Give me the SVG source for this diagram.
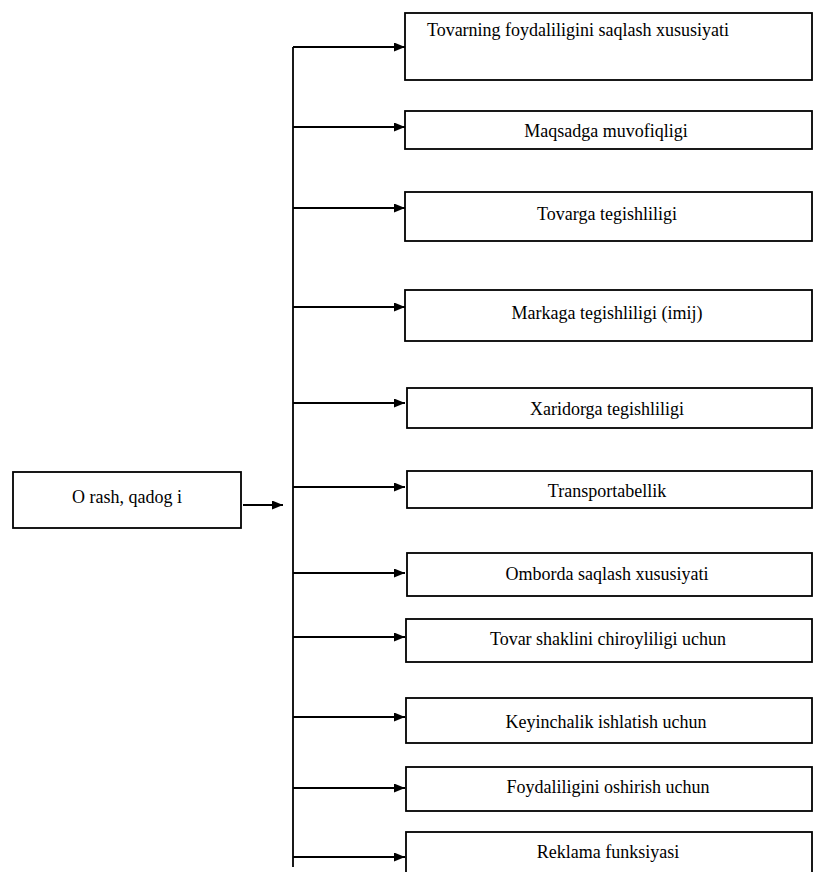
<svg xmlns="http://www.w3.org/2000/svg" width="814" height="872" viewBox="0 0 814 872">
  <style>
    .box { fill: #fff; stroke: #000; stroke-width: 1.8; }
    .lbl { font-family: "Liberation Serif", "Times New Roman", serif; font-size: 18px; fill: #000; text-anchor: middle; }
    .ln { stroke: #000; stroke-width: 1.8; fill: none; }
  </style>
  <defs>
    <marker id="arr" markerWidth="11" markerHeight="9" refX="11" refY="4.5" orient="auto" markerUnits="userSpaceOnUse">
      <path d="M0,0 L11,4.5 L0,9 Z" fill="#000"/>
    </marker>
  </defs>
  <rect width="814" height="872" fill="#fff"/>

  <!-- connectors -->
  <g id="connectors">
    <line class="ln" x1="293" y1="47" x2="293" y2="867"/>
    <line class="ln" x1="243" y1="505" x2="283" y2="505" marker-end="url(#arr)"/>
    <line class="ln" x1="293" y1="47" x2="405" y2="47" marker-end="url(#arr)"/>
    <line class="ln" x1="293" y1="127" x2="405" y2="127" marker-end="url(#arr)"/>
    <line class="ln" x1="293" y1="208" x2="405" y2="208" marker-end="url(#arr)"/>
    <line class="ln" x1="293" y1="307" x2="405" y2="307" marker-end="url(#arr)"/>
    <line class="ln" x1="293" y1="403" x2="405" y2="403" marker-end="url(#arr)"/>
    <line class="ln" x1="293" y1="487" x2="405" y2="487" marker-end="url(#arr)"/>
    <line class="ln" x1="293" y1="573" x2="405" y2="573" marker-end="url(#arr)"/>
    <line class="ln" x1="293" y1="637" x2="405" y2="637" marker-end="url(#arr)"/>
    <line class="ln" x1="293" y1="717" x2="405" y2="717" marker-end="url(#arr)"/>
    <line class="ln" x1="293" y1="788" x2="405" y2="788" marker-end="url(#arr)"/>
    <line class="ln" x1="293" y1="857" x2="405" y2="857" marker-end="url(#arr)"/>
  </g>

  <g id="root">
    <rect class="box" x="13" y="472" width="228" height="56"/>
    <text class="lbl" x="127" y="503">O rash, qadog i</text>
  </g>

  <g id="n1">
    <rect class="box" x="405" y="13" width="407" height="67"/>
    <text class="lbl" x="578" y="36">Tovarning foydaliligini saqlash xususiyati</text>
  </g>
  <g id="n2">
    <rect class="box" x="405" y="111" width="407" height="38"/>
    <text class="lbl" x="606" y="137">Maqsadga muvofiqligi</text>
  </g>
  <g id="n3">
    <rect class="box" x="405" y="192" width="407" height="49"/>
    <text class="lbl" x="607" y="220">Tovarga tegishliligi</text>
  </g>
  <g id="n4">
    <rect class="box" x="405" y="290" width="407" height="51"/>
    <text class="lbl" x="607" y="319">Markaga tegishliligi (imij)</text>
  </g>
  <g id="n5">
    <rect class="box" x="407" y="388" width="405" height="40"/>
    <text class="lbl" x="607" y="415">Xaridorga tegishliligi</text>
  </g>
  <g id="n6">
    <rect class="box" x="407" y="471" width="405" height="37"/>
    <text class="lbl" x="607" y="497">Transportabellik</text>
  </g>
  <g id="n7">
    <rect class="box" x="407" y="553" width="405" height="43"/>
    <text class="lbl" x="607" y="580">Omborda saqlash xususiyati</text>
  </g>
  <g id="n8">
    <rect class="box" x="406" y="619" width="406" height="43"/>
    <text class="lbl" x="608" y="645">Tovar shaklini chiroyliligi uchun</text>
  </g>
  <g id="n9">
    <rect class="box" x="406" y="698" width="406" height="45"/>
    <text class="lbl" x="606" y="728">Keyinchalik ishlatish uchun</text>
  </g>
  <g id="n10">
    <rect class="box" x="406" y="767" width="406" height="44"/>
    <text class="lbl" x="608" y="793">Foydaliligini oshirish uchun</text>
  </g>
  <g id="n11">
    <rect class="box" x="406" y="832" width="406" height="45"/>
    <text class="lbl" x="608" y="858">Reklama funksiyasi</text>
  </g>
</svg>
